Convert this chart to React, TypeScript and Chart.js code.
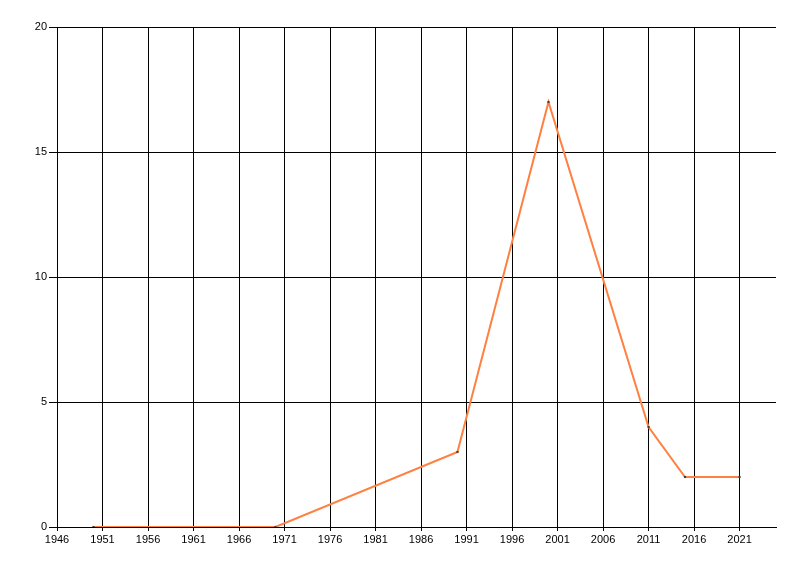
import React, { useEffect, useRef } from 'react';
import { Chart, registerables } from 'chart.js';

Chart.register(...registerables);

const years = [1950, 1970, 1990, 2000, 2011, 2015, 2021];
const values = [0, 0, 3, 17, 4, 2, 2];
const xTickValues = [1946, 1951, 1956, 1961, 1966, 1971, 1976, 1981, 1986, 1991, 1996, 2001, 2006, 2011, 2016, 2021];
const yTickValues = [0, 5, 10, 15, 20];

const FONT = { family: '"Liberation Sans", Arial, sans-serif', size: 11 };

export default function App() {
  const ref = useRef<HTMLCanvasElement | null>(null);

  useEffect(() => {
    if (!ref.current) return;
    const chart = new Chart(ref.current, {
      type: 'line',
      data: {
        datasets: [
          {
            data: years.map((y, i) => ({ x: y, y: values[i] })),
            borderColor: 'rgb(255,128,64)',
            borderWidth: 2,
            pointStyle: 'rect',
            pointRadius: 1.5,
            pointBackgroundColor: '#404040',
            pointBorderWidth: 0,
            tension: 0,
            fill: false,
          },
        ],
      },
      options: {
        responsive: false,
        animation: false,
        events: [],
        layout: { padding: { top: 27, right: 24, left: 0, bottom: 0 } },
        plugins: { legend: { display: false }, tooltip: { enabled: false } },
        scales: {
          x: {
            type: 'linear',
            min: 1946,
            max: 2025,
            afterBuildTicks: (s: any) => {
              s.ticks = xTickValues.map((v) => ({ value: v }));
            },
            afterFit: (s: any) => {
              s.height = 49;
            },
            ticks: {
              autoSkip: false,
              maxRotation: 0,
              minRotation: 0,
              color: '#000',
              font: FONT,
              padding: 2,
              callback: (v: any) => String(v),
            },
            grid: { color: '#000', lineWidth: 1, tickLength: 4 },
            border: { color: '#000', width: 1 },
          },
          y: {
            type: 'linear',
            min: 0,
            max: 20,
            afterBuildTicks: (s: any) => {
              s.ticks = yTickValues.map((v) => ({ value: v }));
            },
            afterFit: (s: any) => {
              s.width = 57;
            },
            ticks: {
              color: '#000',
              font: FONT,
              padding: 2,
              callback: (v: any) => String(v),
            },
            grid: { color: '#000', lineWidth: 1, tickLength: 8 },
            border: { color: '#000', width: 1 },
          },
        },
      },
    });
    return () => chart.destroy();
  }, []);

  return (
    <div style={{ position: 'fixed', left: 0, top: 0, width: 800, height: 576, background: '#fff' }}>
      <canvas ref={ref} width={800} height={576} style={{ width: 800, height: 576 }} />
    </div>
  );
}
